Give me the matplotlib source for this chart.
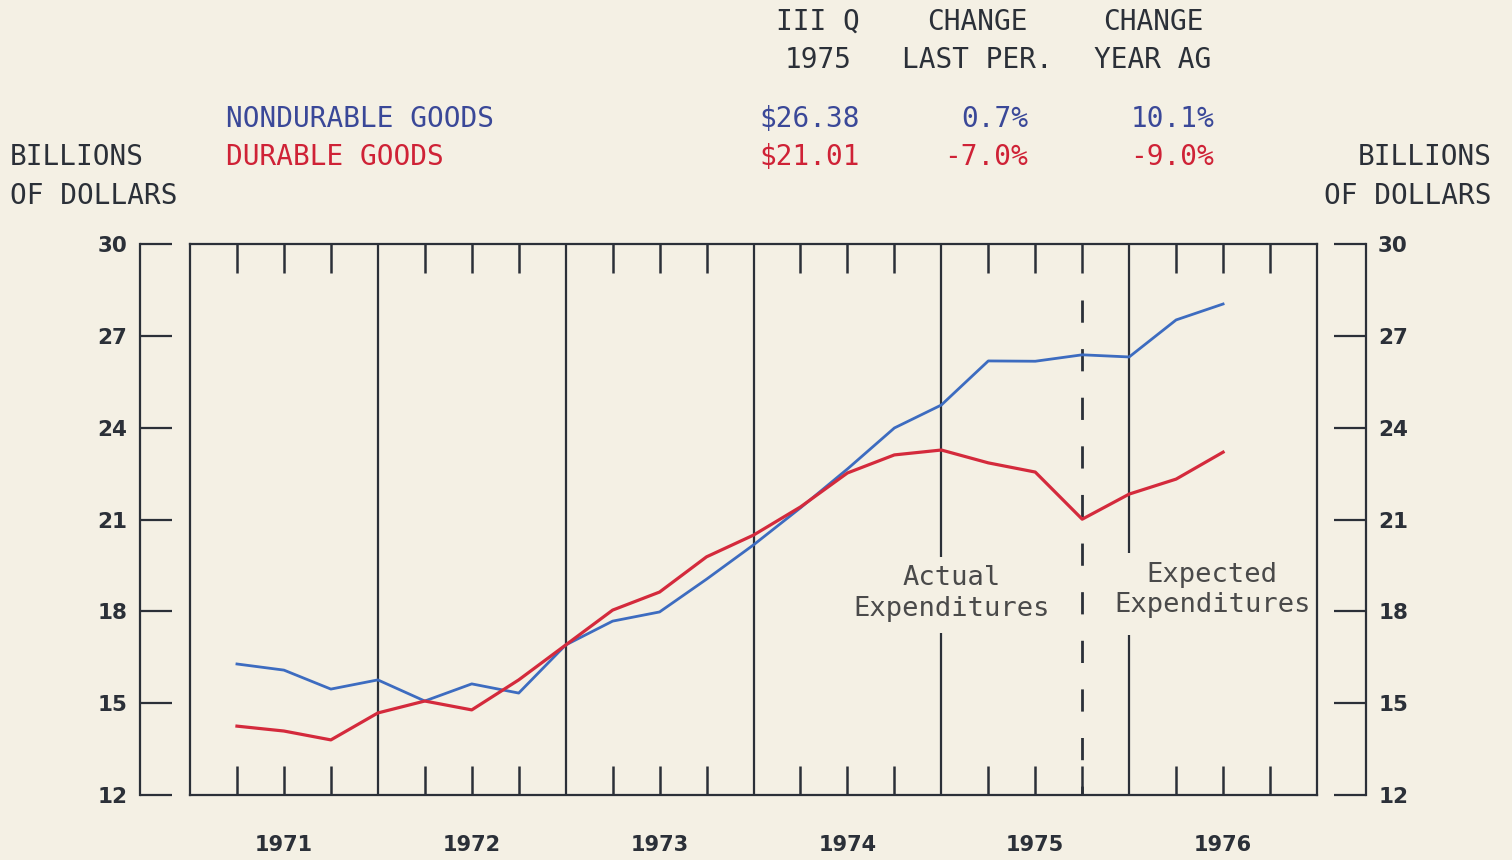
import matplotlib
matplotlib.use("Agg")
import matplotlib.pyplot as plt
from matplotlib.ticker import FixedLocator

# ---- data ----
years = ["1971", "1972", "1973", "1974", "1975", "1976"]
quarter_index = list(range(1, 23))  # quarters 1971 Q1 .. 1976 Q2 (positions in quarter units)
nondurable = [16.28, 16.08, 15.46, 15.76, 15.07, 15.63, 15.33, 16.90,
              17.68, 17.98, 19.05, 20.17, 21.38, 22.65, 23.99, 24.74,
              26.18, 26.17, 26.38, 26.31, 27.52, 28.04]
durable = [14.25, 14.09, 13.80, 14.68, 15.07, 14.78, 15.76, 16.90,
           18.04, 18.63, 19.78, 20.49, 21.41, 22.52, 23.11, 23.27,
           22.85, 22.55, 21.01, 21.83, 22.32, 23.20]
y_ticks = [12, 15, 18, 21, 24, 27, 30]
series_names = ["NONDURABLE GOODS", "DURABLE GOODS"]
col_heads = [("III Q", "1975"), ("CHANGE", "LAST PER."), ("CHANGE", "YEAR AG")]
nondur_stats = ["$26.38", "0.7%", "10.1%"]
dur_stats = ["$21.01", "-7.0%", "-9.0%"]

BG = "#f4f0e4"
INK = "#2b3038"
BLUE = "#3d6cc0"
BLUE_TXT = "#3a4898"
RED = "#d42a3c"
RED_TXT = "#cf2236"
GRAY = "#4a4a4a"

W, H = 1512, 860
fig = plt.figure(figsize=(W / 100, H / 100), dpi=100, facecolor=BG)

def fx(px):
    return px / W

def fy(py):
    return 1 - py / H

left, right, top, bottom = 190, 1317, 244, 795
ax = fig.add_axes([fx(left), fy(bottom), fx(right - left), (bottom - top) / H])
ax.set_facecolor(BG)
ax.set_xlim(0, 24)
ax.set_ylim(12, 30)

# spines
for s in ax.spines.values():
    s.set_color(INK)
    s.set_linewidth(1.6)
ax.spines["left"].set_position(("outward", 36))
ax.spines["right"].set_position(("outward", 35))
# box edges where the spines were
ax.axvline(0, color=INK, lw=1.6, clip_on=False)
ax.axvline(24, color=INK, lw=1.6, clip_on=False)

# quarter ticks (top and bottom, inward)
ax.xaxis.set_major_locator(FixedLocator([q for q in range(1, 24) if q % 4 != 0]))
ax.tick_params(axis="x", which="major", direction="in", length=21, width=1.8,
               color=INK, top=True, bottom=True, labelbottom=False)
# year labels
xtrans = ax.get_xaxis_transform()
for i, yr in enumerate(years):
    ax.text(2 + 4 * i, -0.091, yr, transform=xtrans, ha="center", va="center",
            fontsize=15, fontweight="bold", color=INK)

# y ticks both sides
ax.set_yticks(y_ticks)
ax.tick_params(axis="y", which="major", direction="in", length=23, width=1.6,
               color=INK, left=True, right=True, labelleft=True, labelright=True,
               labelsize=15.5, labelcolor=INK, pad=9)
for lbl in ax.get_yticklabels():
    lbl.set_fontweight("bold")

# year boundary lines
for q in (4, 8, 12):
    ax.vlines(q, 12, 30, color=INK, lw=1.6)
ax.vlines(16, 19.77, 30, color=INK, lw=1.6)
ax.vlines(16, 12, 17.29, color=INK, lw=1.6)
ax.vlines(20, 19.90, 30, color=INK, lw=1.6)
ax.vlines(20, 12, 17.23, color=INK, lw=1.6)
# dashed boundary between actual and expected
ax.plot([19, 19], [28.17, 12], color=INK, lw=2, linestyle=(0, (8, 9.5)))

# data lines
ax.plot(quarter_index, nondurable, color=BLUE, lw=2.0, solid_joinstyle="round")
ax.plot(quarter_index, durable, color=RED, lw=2.3, solid_joinstyle="round")

# annotations in plot
ax.text(16.22, 18.57, "Actual\nExpenditures", ha="center", va="center",
        fontsize=19.5, family="DejaVu Sans Mono", color=GRAY, linespacing=1.25)
ax.text(21.77, 18.70, "Expected\nExpenditures", ha="center", va="center",
        fontsize=19.5, family="DejaVu Sans Mono", color=GRAY, linespacing=1.2)

# header texts
mono = dict(family="DejaVu Sans Mono", fontsize=20)
fig.text(fx(10), fy(157), "BILLIONS", ha="left", va="center", color=INK, **mono)
fig.text(fx(10), fy(196), "OF DOLLARS", ha="left", va="center", color=INK, **mono)
fig.text(fx(1492), fy(157), "BILLIONS", ha="right", va="center", color=INK, **mono)
fig.text(fx(1492), fy(196), "OF DOLLARS", ha="right", va="center", color=INK, **mono)
fig.text(fx(226), fy(119), series_names[0], ha="left", va="center", color=BLUE_TXT, **mono)
fig.text(fx(226), fy(157), series_names[1], ha="left", va="center", color=RED_TXT, **mono)

head_x = [818, 977, 1153]
for (l1, l2), x in zip(col_heads, head_x):
    fig.text(fx(x), fy(22), l1, ha="center", va="center", color=INK, **mono)
    fig.text(fx(x), fy(60), l2, ha="center", va="center", color=INK, **mono)

stat_x = [860, 1028, 1214]
for s, x in zip(nondur_stats, stat_x):
    fig.text(fx(x), fy(119), s, ha="right", va="center", color=BLUE_TXT, **mono)
for s, x in zip(dur_stats, stat_x):
    fig.text(fx(x), fy(157), s, ha="right", va="center", color=RED_TXT, **mono)

fig.savefig("out.png", dpi=100, facecolor=BG)
